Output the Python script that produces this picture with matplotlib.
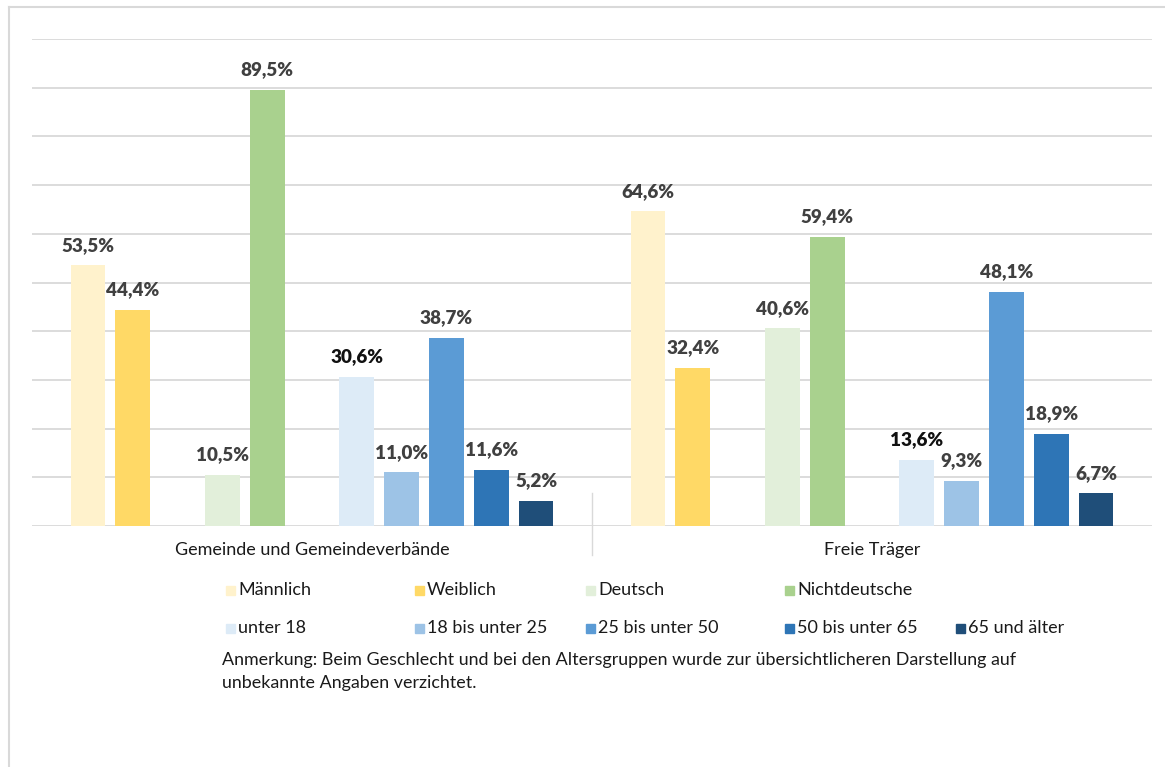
import numpy as np
import matplotlib
matplotlib.use("Agg")
import matplotlib.pyplot as plt
from matplotlib.patches import Rectangle
from matplotlib.transforms import blended_transform_factory

plt.rcParams['font.family'] = ['Lato', 'DejaVu Sans']

categories = ["Gemeinde und Gemeindeverbände", "Freie Träger"]
series = ["Männlich", "Weiblich", "Deutsch", "Nichtdeutsche",
          "unter 18", "18 bis unter 25", "25 bis unter 50",
          "50 bis unter 65", "65 und älter"]
gemeinde = [53.5, 44.4, 10.5, 89.5, 30.6, 11.0, 38.7, 11.6, 5.2]
freie = [64.6, 32.4, 40.6, 59.4, 13.6, 9.3, 48.1, 18.9, 6.7]
values = [gemeinde, freie]

colors = ["#FFF2CC", "#FFD966", "#E2EFDA", "#A9D18E",
          "#DDEBF7", "#9DC3E6", "#5B9BD5", "#2E75B6", "#1F4E79"]
# slot inside a category (Excel chart had two blank series as spacers)
slots = [0, 1, 3, 4, 6, 7, 8, 9, 10]
dark_labels = {"unter 18"}

W, H = 1165, 767
fig = plt.figure(figsize=(W / 100, H / 100), dpi=100)

def fx(px):
    return px / W

def fy(py):
    return 1 - py / H

ax = fig.add_axes([fx(32), fy(526), fx(1152) - fx(32), fy(39) - fy(526)])

cat_w = 12.5
bar_w = 0.78
for ci, cat in enumerate(categories):
    center = ci * cat_w
    for si, name in enumerate(series):
        x = center + (slots[si] - 5)
        v = values[ci][si]
        ax.bar(x, v, width=bar_w, color=colors[si], zorder=3)
        txt = f"{v:.1f}".replace(".", ",") + "%"
        col = "#111111" if name in dark_labels else "#404040"
        ax.annotate(txt, (x, v), xytext=(0, 14.5), textcoords="offset points",
                    ha="center", va="center", fontsize=13.6,
                    fontweight="heavy", color=col, zorder=4)
    ax.text(center, -0.05, cat, transform=blended_transform_factory(ax.transData, ax.transAxes),
            ha="center", va="center", fontsize=13, color="#1a1a1a")

ax.set_xlim(-cat_w / 2, cat_w * 1.5)
ax.set_ylim(0, 100)
ax.set_yticks(np.arange(0, 101, 10))
ax.yaxis.grid(True, color="#d9d9d9", lw=1.3, zorder=0)
ax.set_xticks([])
ax.tick_params(left=False, labelleft=False)
for s in ax.spines.values():
    s.set_visible(False)

# divider between the categories
trans = blended_transform_factory(ax.transData, ax.transAxes)
ax.plot([cat_w / 2, cat_w / 2], [0.068, -0.06], color="#d9d9d9", lw=1,
        transform=trans, clip_on=False)

# legend, laid out like the Excel one
leg_x = [238, 427, 598, 797, 238, 427, 598, 797, 968]
leg_y = [590, 590, 590, 590, 628, 628, 628, 628, 628]
for si, name in enumerate(series):
    fig.patches.append(Rectangle((fx(leg_x[si] - 12), fy(leg_y[si] + 5)), fx(9), 9 / H,
                                 transform=fig.transFigure, color=colors[si]))
    fig.text(fx(leg_x[si]), fy(leg_y[si]), name, ha="left", va="center",
             fontsize=13, color="#1a1a1a")

fig.text(fx(222), fy(660), "Anmerkung: Beim Geschlecht und bei den Altersgruppen wurde zur "
         "übersichtlicheren Darstellung auf", ha="left", va="center", fontsize=12.9, color="#1a1a1a")
fig.text(fx(222), fy(683), "unbekannte Angaben verzichtet.", ha="left", va="center",
         fontsize=12.9, color="#1a1a1a")

# frame of the chart area
fig.add_artist(plt.Line2D([fx(9), 1], [fy(6.5), fy(6.5)], color="#d9d9d9", lw=1.5))
fig.add_artist(plt.Line2D([fx(9), fx(9)], [0, fy(6.5)], color="#d9d9d9", lw=1.5))

fig.savefig("out.png", dpi=100)
